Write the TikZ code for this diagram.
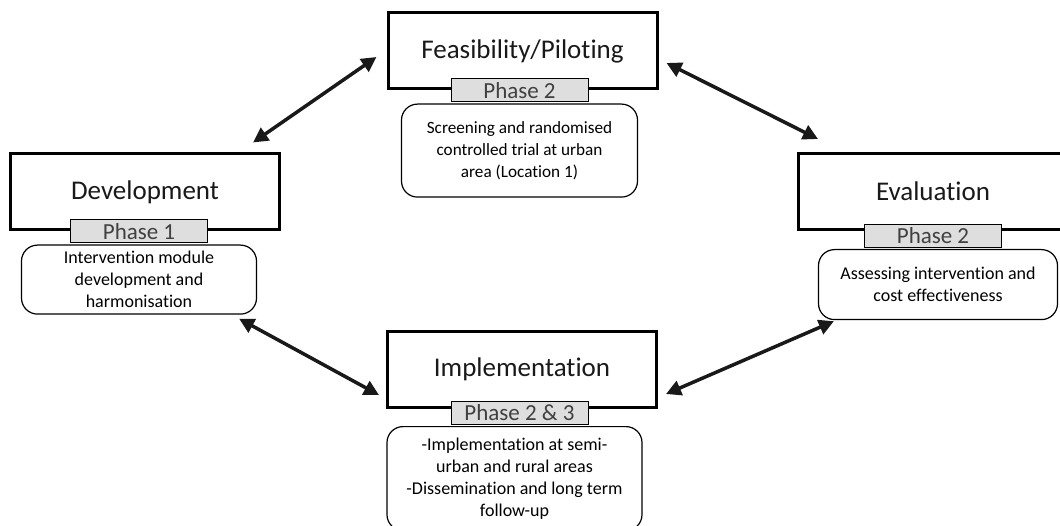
\documentclass[tikz,border=0pt]{standalone}
\usepackage{fontspec}
\setmainfont[Ligatures=NoCommon]{Carlito}
\usetikzlibrary{arrows.meta, positioning}
\tikzset{
		stage/.style={draw, line width=3pt, minimum width=269pt, minimum height=76pt, text=black!90, font=\fontsize{27}{32}\selectfont},
		phasetab/.style={draw, fill=black!13, line width=1pt, minimum width=137pt, minimum height=23pt, inner sep=0pt, text=black!75, font=\fontsize{23}{26}\selectfont},
		stagetext/.style={draw, rounded corners=16pt, line width=1.2pt, align=center, inner sep=0pt, font=\fontsize{18}{22}\selectfont},
		link/.style={{Triangle[length=15pt, width=15pt]}-{Triangle[length=15pt, width=15pt]}, line width=3.5pt, black!90}
	}
\begin{document}
\begin{tikzpicture}[x=1pt, y=-1pt]
				\useasboundingbox (0,0) rectangle (1060,526);
				\clip (0,0) rectangle (1060,526);

				\node[stage] (feas) at (522.5,51)  {Feasibility/Piloting};
				\node[stage] (dev)  at (145,192)   {Development};
				\node[stage] (eval) at (933,191.5) {Evaluation};
				\node[stage] (impl) at (522,369.5) {Implementation};

				\node[phasetab, xshift=-3pt]               (feastab) at (feas.south) {Phase 2};
				\node[phasetab, xshift=-6pt]               (devtab)  at (dev.south)  {Phase 1};
				\node[phasetab, yshift=-5pt]               (evaltab) at (eval.south) {Phase 2};
				\node[phasetab, xshift=-2.5pt, yshift=-4pt] (impltab) at (impl.south) {Phase 2 \& 3};

				\node[stagetext, minimum width=236pt, minimum height=93pt, below=1pt of feastab, font=\fontsize{17.2}{22}\selectfont] (feastext)
					{Screening and randomised\\controlled trial at urban\\area (Location 1)};
				\node[stagetext, minimum width=235pt, minimum height=69pt, below=1pt of devtab] (devtext)
					{Intervention module\\development and\\harmonisation};
				\node[stagetext, minimum width=239pt, minimum height=70pt, below=1pt of evaltab, xshift=5pt] (evaltext)
					{Assessing intervention and\\cost effectiveness};
				\node[stagetext, minimum width=255pt, minimum height=104pt, below=1pt of impltab, xshift=-5pt] (impltext)
					{-Implementation at semi-\\urban and rural areas\\-Dissemination and long term\\follow-up};

				\draw[link] ([xshift=-28pt, yshift=10pt]dev.north east) -- ([xshift=-10pt, yshift=-6pt]feas.west);
				\draw[link] ([xshift=8pt, yshift=-12pt]feas.east) -- ([xshift=21pt, yshift=13pt]eval.north west);
				\draw[link] ([xshift=-18pt, yshift=-4pt]devtext.south east) -- ([xshift=-7pt, yshift=14pt]impl.south west);
				\draw[link] ([xshift=8pt, yshift=15pt]impl.south east) -- ([xshift=16pt, yshift=-1pt]evaltext.south west);
			\end{tikzpicture}
\end{document}
